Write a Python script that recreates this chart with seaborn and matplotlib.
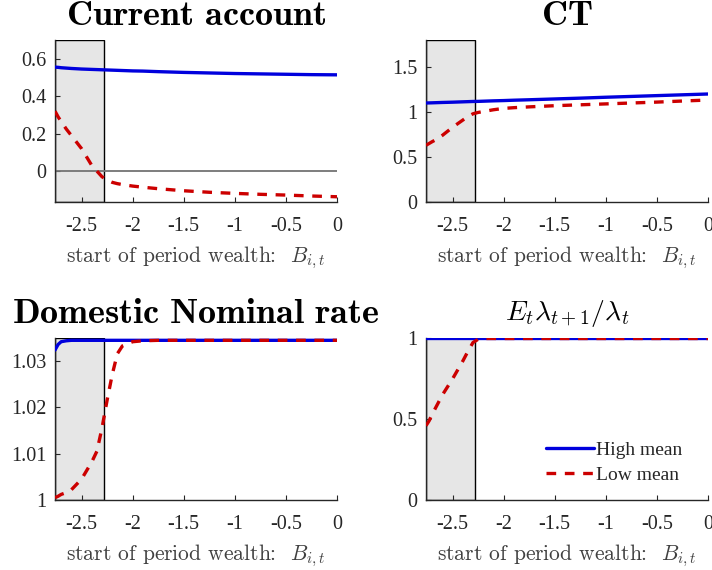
import numpy as np
import pandas as pd
import matplotlib
matplotlib.use("Agg")
import matplotlib.pyplot as plt
import seaborn as sns

# wealth grid (x axis)
wealth = [-2.76, -2.73, -2.7, -2.65, -2.6, -2.5, -2.4, -2.35, -2.3, -2.25, -2.2, -2.15,
          -2.1, -2.0, -1.9, -1.75, -1.5, -1.25, -1.0, -0.75, -0.5, -0.25, 0.0]

ca_high = [0.555, 0.554, 0.552, 0.550, 0.548, 0.545, 0.543, 0.542, 0.541, 0.540, 0.539, 0.538,
           0.537, 0.535, 0.534, 0.531, 0.527, 0.524, 0.521, 0.519, 0.517, 0.515, 0.514]
ca_low = [0.32, 0.29, 0.265, 0.225, 0.19, 0.12, 0.03, 0.0, -0.03, -0.048, -0.06, -0.067,
          -0.072, -0.08, -0.086, -0.094, -0.105, -0.113, -0.119, -0.124, -0.128, -0.133, -0.137]

ct_high = [1.100, 1.101, 1.102, 1.104, 1.106, 1.109, 1.113, 1.115, 1.117, 1.118, 1.120, 1.122,
           1.124, 1.127, 1.131, 1.136, 1.145, 1.154, 1.164, 1.173, 1.182, 1.191, 1.200]
ct_low = [0.63, 0.65, 0.67, 0.70, 0.74, 0.83, 0.91, 0.95, 0.98, 0.995, 1.005, 1.015,
          1.025, 1.04, 1.048, 1.057, 1.07, 1.08, 1.09, 1.10, 1.11, 1.122, 1.133]

rate_high = [1.0323, 1.0335, 1.0341, 1.0343, 1.0344, 1.0344, 1.0344, 1.0344, 1.0344, 1.0344,
             1.0344, 1.0344, 1.0344, 1.0344, 1.0344, 1.0344, 1.0344, 1.0344, 1.0344, 1.0344,
             1.0344, 1.0344, 1.0344]
rate_low = [1.0005, 1.0008, 1.0012, 1.0016, 1.0022, 1.0045, 1.0082, 1.0105, 1.0155, 1.0215,
            1.027, 1.0315, 1.0332, 1.0341, 1.0343, 1.0344, 1.0344, 1.0344, 1.0344, 1.0344,
            1.0344, 1.0344, 1.0344]

lam_high = [1.0] * 23
lam_low = [0.46, 0.49, 0.53, 0.59, 0.65, 0.75, 0.86, 0.92, 0.975, 0.995, 1.0, 1.0,
           1.0, 1.0, 1.0, 1.0, 1.0, 1.0, 1.0, 1.0, 1.0, 1.0, 1.0]

constraint = -2.28

sns.set_style("ticks")
plt.rcParams["font.family"] = ["Liberation Serif", "DejaVu Serif"]
plt.rcParams["mathtext.fontset"] = "cm"
plt.rcParams["axes.unicode_minus"] = False

blue = "#0000dd"
red = "#cc0000"
txt = "#262626"

fig = plt.figure(figsize=(7.12, 5.70), dpi=100)
W, H = 712, 570
boxes = [(55, 40), (426, 40), (55, 338), (426, 338)]
panels = [
    (r"$\mathbf{Current\ account}$", ca_high, ca_low, (-0.165, 0.70), [0, 0.2, 0.4, 0.6]),
    (r"$\mathbf{CT}$", ct_high, ct_low, (0, 1.8), [0, 0.5, 1, 1.5]),
    (r"$\mathbf{Domestic\ Nominal\ rate}$", rate_high, rate_low, (1.0, 1.0349), [1, 1.01, 1.02, 1.03]),
    (r"$E_t\lambda_{t+1}/\lambda_t$", lam_high, lam_low, (0, 1.003), [0, 0.5, 1]),
]

for (px, py), (title, hi, lo, ylim, yt) in zip(boxes, panels):
    ax = fig.add_axes([px / W, 1 - (py + 162) / H, 282 / W, 162 / H])
    df = pd.DataFrame({"wealth": wealth, "High mean": hi, "Low mean": lo})
    ax.axvspan(-2.76, constraint, facecolor="#e6e6e6", edgecolor="black", lw=1, zorder=0)
    if ylim[0] < 0:
        ax.axhline(0, color="0.45", lw=1.3, zorder=1)
    sns.lineplot(data=df, x="wealth", y="High mean", ax=ax, color=blue, lw=2.4,
                 label="High mean", legend=False, zorder=3)
    sns.lineplot(data=df, x="wealth", y="Low mean", ax=ax, color=red, lw=2.4,
                 label="Low mean", legend=False, zorder=3)
    ax.lines[-1].set_dashes([2.9, 2.6])
    ax.set_xlim(-2.76, 0)
    ax.set_ylim(*ylim)
    ax.set_xticks([-2.5, -2, -1.5, -1, -0.5, 0])
    ax.set_xticklabels(["-2.5", "-2", "-1.5", "-1", "-0.5", "0"])
    ax.set_yticks(yt)
    ax.set_yticklabels([("%g" % v) for v in yt])
    ax.tick_params(direction="in", length=3.5, labelsize=14.5, colors=txt)
    ax.tick_params(axis="x", pad=11)
    ax.tick_params(axis="y", pad=6)
    for s in ["left", "bottom"]:
        ax.spines[s].set_color(txt)
        ax.spines[s].set_linewidth(1.0)
    sns.despine(ax=ax)
    ax.set_xlabel(r"start of period wealth:  $B_{i,t}$", fontsize=15.5,
                  color="#404040", labelpad=6, family=["cmr10", "DejaVu Serif"])
    ax.set_ylabel("")
    if title.startswith(r"$E_t"):
        ax.set_title(title, fontsize=20, pad=13, color="black")
        ax.legend(loc="lower right", bbox_to_anchor=(0.97, -0.01), frameon=False,
                  fontsize=14, handlelength=2.45, handletextpad=0.1, labelspacing=0.4)
    else:
        ax.set_title(title, fontsize=26, pad=11, color="black")

fig.savefig("out.png", dpi=100)
